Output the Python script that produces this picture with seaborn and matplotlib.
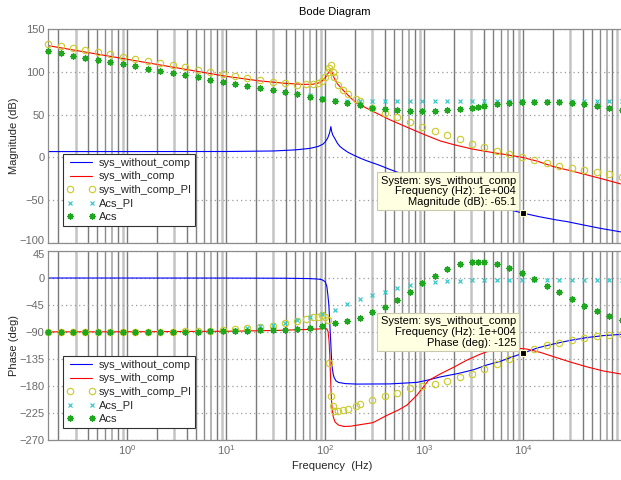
import numpy as np
import pandas as pd
import matplotlib
matplotlib.use("Agg")
import matplotlib.pyplot as plt
import matplotlib.transforms as mtransforms
import seaborn as sns
from matplotlib.lines import Line2D
from matplotlib.ticker import LogLocator, NullFormatter, FixedLocator

# ---------------- data ----------------
# sys_without_comp (blue line)
wo_mag_f = [0.158, 1, 10, 30, 50, 70, 85, 95, 100, 106, 110, 112.5, 114.2, 116, 119, 126, 133, 141,
            153, 170, 192, 225, 264, 310, 360, 450, 600, 1000, 1450, 2500, 3700, 5900, 10000,
            14600, 21600, 27800, 41000, 60000, 97000]
wo_mag_db = [6.8, 6.8, 6.9, 7.5, 8.8, 10.5, 12.8, 15.5, 18, 22.5, 27.5, 32, 36, 31, 26.5, 21.5, 16.5, 12.8,
             9.6, 6, 2.9, -0.8, -4, -6.8, -9.5, -14, -19.3, -28.5, -35, -44.5, -51, -58.5, -65.1,
             -69.3, -73, -75, -79, -82.8, -87]
wo_ph_f = [0.158, 10, 40, 70, 85, 92.6, 100, 104, 106.5, 109, 111, 112.5, 114.2, 116, 118, 120.5, 123.3,
           128, 136, 160, 209, 454, 844, 1065, 1450, 2230, 3150, 4300, 5860, 7500, 10000, 14000,
           20240, 30000, 44000, 65000, 97000]
wo_ph_deg = [0, -0.1, -0.4, -1, -1.8, -2.8, -6, -14, -28, -45, -70, -90, -110, -135, -150, -160, -166,
             -171, -174, -176, -176.8, -176.5, -174, -170.5, -165, -159, -153, -145, -139, -132.5, -125.3, -116.5,
             -110, -104, -99.3, -96, -94]

# sys_with_comp (red line)
w_mag_f = [0.158, 0.5, 1, 3, 10, 22, 40, 60, 75, 85, 93, 100, 106, 111, 114, 117, 121, 126, 133, 141,
           152, 163, 185, 209, 250, 307, 454, 670, 985, 1452, 1977, 3000, 4300, 6500, 9700, 14000,
           20240, 30000, 44000, 65000, 97000]
w_mag_db = [130.6, 120.6, 114.6, 105.1, 94.7, 89.3, 86.5, 85.3, 85.5, 86.8, 89.2, 93, 97.5, 101, 102.3, 100,
            95, 90.5, 86, 82.7, 78.5, 75, 68.5, 63.3, 58.8, 53.5, 43.8, 35.3, 27.1, 19.3, 15, 10, 6.8, 3.5,
            0.2, -4.5, -10.7, -15.5, -20.4, -25.5, -31]
w_ph_f = [0.158, 1, 10, 30, 60, 85, 100, 104, 107, 109.5, 111.5, 113, 114.5, 116, 118, 121, 126, 136,
          155, 180, 225, 305, 420, 550, 669, 850, 1104, 1452, 1977, 2700, 3690, 4640, 6300, 8270,
          10960, 15000, 20240, 30000, 44000, 65000, 97000]
w_ph_deg = [-89.8, -89.6, -88.8, -87.5, -86, -85, -84, -85, -89, -105, -130, -160, -185, -205, -220, -232,
            -240, -245, -247.5, -247, -244.5, -241, -229, -220, -212, -195, -171, -160, -149, -137, -127,
            -121, -117, -116.5, -118.5, -124, -131, -140, -148, -155, -160]

# sampled responses (markers)
grid_f = [0.158, 0.212, 0.283, 0.378, 0.506, 0.676, 0.904, 1.21, 1.61, 2.16, 2.88, 3.85, 5.15, 6.89,
          9.20, 12.3, 16.4, 22.0, 29.4, 39.3, 52.5, 70.1, 93.8, 125, 167, 224, 299, 400, 535, 714,
          955, 1276, 1706, 2280, 3048, 4074, 5445, 7278, 9727, 13000, 17380, 23230, 31050, 41500,
          55460, 74130, 99080]

# sys_with_comp_PI (yellow circles)
pi_f = [0.158, 0.212, 0.283, 0.378, 0.506, 0.676, 0.904, 1.21, 1.61, 2.16, 2.88, 3.85, 5.15, 6.89,
        9.20, 12.3, 16.4, 22.0, 29.4, 39.3, 52.5,
        63.8, 75.1, 85.6, 92.6, 100, 106.4, 110.6, 114.2, 119.6, 124.2, 136.2, 153, 171.9, 205.6, 225.7,
        299, 400, 535, 714, 955, 1276, 1706, 2280, 3048, 4074, 5445, 7278, 9727, 13000, 17380, 23230,
        31050, 41500, 55460, 74130, 99080]
pi_mag = [132.6, 130.6, 127.9, 125.6, 122.9, 120.6, 117.8, 115.1, 112.7, 110.4, 107.7, 105.4, 102.6, 99.9,
          97.5, 95.2, 92.7, 90.5, 88, 86.4, 85.1,
          85.5, 85.5, 87.4, 89.7, 94.4, 100.2, 104.2, 108, 100.2, 94.4, 84.7, 78.9, 73.8, 68, 66,
          57.5, 52, 46.7, 41.1, 36, 31.1, 25.7, 21.3, 16.2, 11.7, 7.8, 3.7, 0.2, -2.5, -6.1, -9.6,
          -11.9, -14.6, -17.3, -19.6, -22.4]
pi_phase = [-90, -90, -90, -90, -90, -90, -90, -89.9, -89.8, -89.6, -89.3, -89, -88.6, -88,
            -87.2, -85.5, -83.6, -82, -79.8, -75.8, -71.4,
            -68.6, -65.8, -64.7, -61.4, -65.8, -70, -141, -197, -214, -221, -222, -220.5, -218, -212.5, -209.6,
            -203.5, -196.9, -191.2, -184, -180.5, -176.1, -171, -165.5, -159.4, -152.2, -143.9, -135, -125.5,
            -117.6, -112, -107.6, -103.2, -99.3, -96.5, -94.2, -93]

# Acs_PI (cyan x) on grid_f
acspi_mag = [124.4, 121.7, 118.9, 116.6, 113.9, 111.2, 108.8, 106.5, 103.7, 101.4, 98.7, 96.4, 93.7, 90.9,
             88.2, 85.9, 83.7, 81.0, 78.9, 76.2, 73.8, 73, 69.5, 67.5, 66.3, 66, 66, 65.8, 65.6, 65.5,
             65.5, 65.6, 65.5, 65.5, 65.6, 65.5, 65.5, 65.5, 65.5, 65.6, 65.5, 65.5, 65.5, 65.6, 65.5,
             65.5, 65.5]
acspi_phase = [-90, -90, -90, -90, -90, -90, -90, -90, -89.9, -89.8, -89.7, -89.5, -89.3, -89, -88.5,
               -86, -82.5, -80.8, -78.6, -75.3, -70.3, -65.8, -60.2, -52.5, -43.5, -35.1, -28.4, -22.6,
               -17, -12.3, -8.5, -6.2, -5.2, -4.5, -4, -3.6, -3.4, -3.2, -3.1, -3, -3, -2.9, -2.9, -2.8,
               -2.8, -2.8, -2.8]

# Acs (green *)
acs_f = [0.158, 0.212, 0.283, 0.378, 0.506, 0.676, 0.904, 1.21, 1.61, 2.16, 2.88, 3.85, 5.15, 6.89,
         9.20, 12.3, 16.4, 22.0, 29.4, 39.3, 52.5, 70.1, 93.8, 125, 167, 224, 299, 400, 535, 714,
         955, 1276, 1706, 2280, 3048, 3524, 4074, 5445, 7278, 9727, 13000, 17380, 23230, 31050, 41500,
         55460, 74130, 99080]
acs_mag = [124.4, 121.7, 118.9, 116.6, 113.9, 111.2, 108.8, 106.5, 103.7, 101.4, 98.7, 96.4, 93.7, 90.9,
           88.2, 85.9, 83.7, 81.0, 78.9, 76.2, 73.8, 71.0, 68.3, 66.0, 63.3, 61.0, 58.2, 56.3, 55.0, 54.3,
           54.3, 54.5, 55.5, 56.7, 58.2, 59.3, 60.5, 62.1, 64.0, 64.6, 65.0, 65.0, 65.0, 63.5, 62.1,
           60.2, 57.8, 55.0]
acs_phase = [-90, -90, -90, -90, -90, -90, -90, -90, -89.9, -89.8, -89.7, -89.5, -89.3, -89, -88.7,
             -88.3, -87.5, -87.2, -86.8, -86.4, -85.3, -83.6, -80.8, -75.3, -71.4, -66.3, -57.4, -48.5,
             -37.4, -24, -8.9, 3.9, 14.5, 22.8, 26.4, 27, 26.6, 22.8, 16.5, 7.9, -1.7, -12.9, -24, -35.7,
             -46.3, -55.7, -63, -69.7]

labels = ["sys_without_comp", "sys_with_comp", "sys_with_comp_PI", "Acs_PI", "Acs"]
mag_ticks = [-100, -50, 0, 50, 100, 150]
phase_ticks = [-270, -225, -180, -135, -90, -45, 0, 45]
freq_ticks = [1, 10, 100, 1000, 10000]
tip_f, tip_mag, tip_phase = 1e4, -65.1, -125
tip_mag_text = "System: sys_without_comp\nFrequency (Hz): 1e+004\nMagnitude (dB): -65.1"
tip_phase_text = "System: sys_without_comp\nFrequency (Hz): 1e+004\nPhase (deg): -125"

# ---------------- style ----------------
sns.set_theme(style="white")
plt.rcParams['font.family'] = ['Liberation Sans', 'DejaVu Sans']
plt.rcParams['mathtext.fontset'] = 'custom'
plt.rcParams['mathtext.rm'] = 'Liberation Sans'
plt.rcParams['mathtext.it'] = 'Liberation Sans:italic'
plt.rcParams['mathtext.bf'] = 'Liberation Sans:bold'

C_BLUE, C_RED = '#0000ff', '#ff0000'
C_YEL, C_CYAN, C_GREEN = '#cccc30', '#30c8c8', '#1fa81f'
TICK_C = '#6b6b6b'
SPINE_C = '#8c8c8c'

fig = plt.figure(figsize=(6.21, 4.80), dpi=100)
ax1 = fig.add_axes([48 / 621, 1 - 243 / 480, 573 / 621, 214 / 480])
ax2 = fig.add_axes([48 / 621, 1 - 440 / 480, 573 / 621, 189 / 480])

xlim = (10 ** -0.801, 10 ** 4.99)

def vgrid(ax):
    shades = {1: ('#7a7a7a', 1.0), 2: ('#7a7a7a', 1.0), 3: ('#c4c4c4', 1.8), 4: ('#7a7a7a', 1.0),
              5: ('#808080', 1.0), 6: ('#8a8a8a', 1.0), 7: ('#a8a8a8', 1.2), 8: ('#7a7a7a', 1.0),
              9: ('#c4c4c4', 1.8)}
    for d in range(-1, 5):
        for m in range(1, 10):
            f = m * 10.0 ** d
            if xlim[0] < f < xlim[1]:
                c, w = shades[m]
                ax.axvline(f, color=c, lw=w, zorder=0.5)

def line(ax, f, v, color):
    df = pd.DataFrame({"f": f, "v": v})
    sns.lineplot(data=df, x="f", y="v", ax=ax, color=color, lw=0.8, estimator=None, sort=False,
                 legend=False, zorder=2)

def marks(ax, f, v, kind, z):
    df = pd.DataFrame({"f": f, "v": v})
    if kind == 'o':
        sns.lineplot(data=df, x="f", y="v", ax=ax, estimator=None, sort=False, legend=False,
                     linestyle='', marker='o', markersize=4.6, markerfacecolor='none',
                     markeredgecolor=C_YEL, markeredgewidth=0.85, zorder=z, clip_on=False)
    elif kind == 'x':
        sns.lineplot(data=df, x="f", y="v", ax=ax, estimator=None, sort=False, legend=False,
                     linestyle='', marker='x', markersize=3.4, color=C_CYAN,
                     markeredgecolor=C_CYAN, markeredgewidth=0.85, zorder=z, clip_on=False)
    else:
        sns.lineplot(data=df, x="f", y="v", ax=ax, estimator=None, sort=False, legend=False,
                     linestyle='', marker=(8, 2, 0), markersize=4.5, color=C_GREEN,
                     markeredgecolor=C_GREEN, markeredgewidth=0.95, zorder=z, clip_on=False)

for ax in (ax1, ax2):
    ax.set_xscale('log')
    vgrid(ax)

line(ax1, wo_mag_f, wo_mag_db, C_BLUE)
line(ax1, w_mag_f, w_mag_db, C_RED)
marks(ax1, pi_f, pi_mag, 'o', 3)
marks(ax1, grid_f, acspi_mag, 'x', 4)
marks(ax1, acs_f, acs_mag, '*', 5)

line(ax2, wo_ph_f, wo_ph_deg, C_BLUE)
line(ax2, w_ph_f, w_ph_deg, C_RED)
marks(ax2, pi_f, pi_phase, 'o', 3)
marks(ax2, grid_f, acspi_phase, 'x', 4)
marks(ax2, acs_f, acs_phase, '*', 5)

for ax, ticks in ((ax1, mag_ticks), (ax2, phase_ticks)):
    ax.set_xlim(*xlim)
    ax.set_ylim(ticks[0], ticks[-1])
    ax.set_yticks(ticks)
    ax.yaxis.grid(True, linestyle=(0, (1, 2.5)), color='#9a9a9a', lw=0.9)
    ax.xaxis.grid(False)
    ax.set_axisbelow(True)
    ax.xaxis.set_major_locator(FixedLocator(freq_ticks))
    ax.xaxis.set_minor_locator(LogLocator(base=10, subs=np.arange(2, 10), numticks=12))
    ax.xaxis.set_minor_formatter(NullFormatter())
    ax.tick_params(axis='both', which='major', direction='in', length=3, width=0.6,
                   color=SPINE_C, labelcolor=TICK_C, labelsize=8, pad=2.5)
    ax.tick_params(axis='x', which='minor', direction='in', length=2, width=0.5, color=SPINE_C)
    for s in ('left', 'top', 'bottom'):
        ax.spines[s].set_color(SPINE_C)
        ax.spines[s].set_linewidth(0.9)
    ax.spines['right'].set_visible(False)
    ax.set_xlabel('')
    ax.set_ylabel('')
    ax.set_facecolor('white')

ax1.tick_params(axis='x', labelbottom=False)

# keep the touching end labels (-100 / 45) apart slightly
fig.canvas.draw()
lab_top = ax1.get_yticklabels()[0]
lab_top.set_transform(lab_top.get_transform() + mtransforms.ScaledTranslation(0, 2.5 / 72, fig.dpi_scale_trans))
lab_bot = ax2.get_yticklabels()[-1]
lab_bot.set_transform(lab_bot.get_transform() + mtransforms.ScaledTranslation(0, -2.5 / 72, fig.dpi_scale_trans))

# legends
handles = [
    Line2D([], [], color=C_BLUE, lw=0.8),
    Line2D([], [], color=C_RED, lw=0.8),
    Line2D([], [], ls='', marker='o', mfc='none', mec=C_YEL, ms=4.6, mew=0.85),
    Line2D([], [], ls='', marker='x', color=C_CYAN, ms=3.4, mew=0.85),
    Line2D([], [], ls='', marker=(8, 2, 0), color=C_GREEN, ms=4.5, mew=0.95),
]
for ax, anchor in ((ax1, (15 / 573, (243 - 226) / 214)), (ax2, (15 / 573, (440 - 428) / 189))):
    leg = ax.legend(handles, labels, loc='lower left', bbox_to_anchor=anchor, numpoints=2,
                    handlelength=2.6, handletextpad=0.25, labelspacing=0.32, borderpad=0.35,
                    borderaxespad=0, fancybox=False, framealpha=1, fontsize=8, facecolor='white')
    leg.get_frame().set_edgecolor('#303030')
    leg.get_frame().set_linewidth(0.8)
    leg.set_zorder(10)

# data tips
for ax, yv, txt, dy in ((ax1, tip_mag, tip_mag_text, 6), (ax2, tip_phase, tip_phase_text, 5)):
    ax.plot([tip_f], [yv], ls='', marker='s', ms=4.2, mfc='black', mec='#ffffd0', mew=0.8, zorder=9)
    ax.annotate(txt, xy=(tip_f, yv), xytext=(-7, dy), textcoords='offset pixels', ha='right',
                va='bottom', multialignment='right', fontsize=8, linespacing=1.1, color='black',
                bbox=dict(boxstyle='square,pad=0.3', fc='#ffffe1', ec='#c9c9b0', lw=0.8), zorder=8)

# titles and labels
fig.text(334.5 / 621, 1 - 12 / 480, 'Bode Diagram', ha='center', va='center', fontsize=8, color='black')
fig.text(14 / 621, 1 - 136 / 480, 'Magnitude (dB)', ha='center', va='center', rotation=90, fontsize=8)
fig.text(14 / 621, 1 - 345.5 / 480, 'Phase (deg)', ha='center', va='center', rotation=90, fontsize=8)
fig.text(332 / 621, 1 - 466 / 480, 'Frequency  (Hz)', ha='center', va='center', fontsize=8)

fig.savefig('out.png', dpi=100, facecolor='white')
